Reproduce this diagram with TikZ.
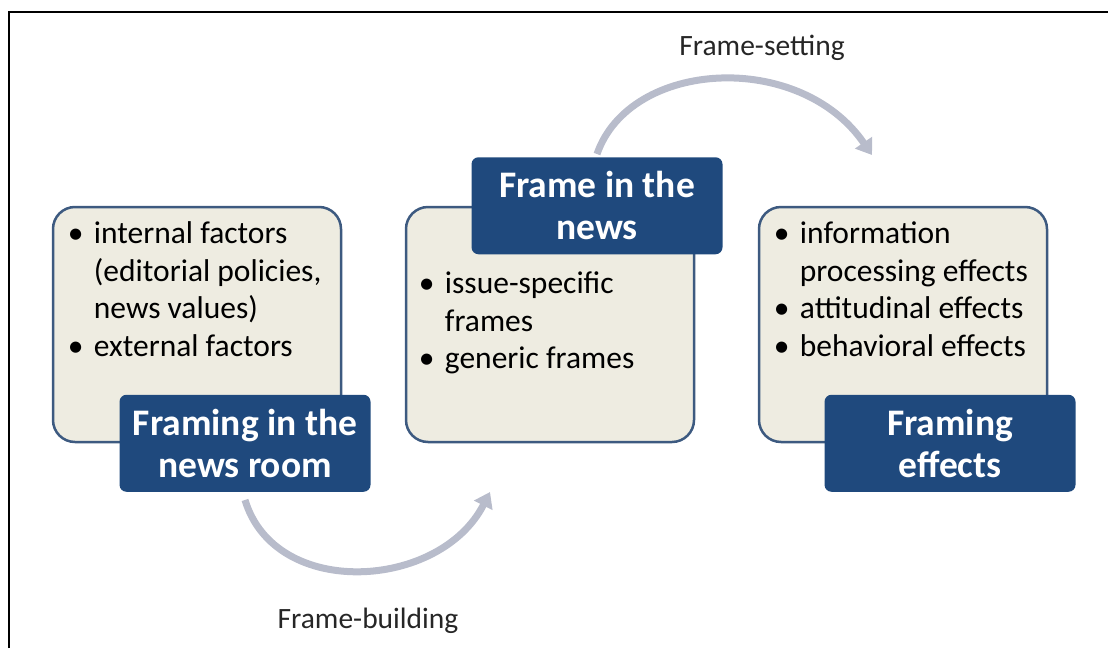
\documentclass[tikz,border=0pt]{standalone}
\usepackage{fontspec}
\setmainfont{Carlito}
\usetikzlibrary{calc,positioning,arrows.meta}

\definecolor{newsblue}{HTML}{1F497D}
\definecolor{paper}{HTML}{EEECE1}
\definecolor{rim}{HTML}{3D5A80}
\definecolor{flow}{HTML}{B8BCCB}

\tikzset{
  listbox/.style={draw=rim, line width=2.5pt, fill=paper, rounded corners=22pt,
    minimum width=288pt, minimum height=235pt, inner sep=0pt},
  titlebox/.style={fill=newsblue, rounded corners=7pt, minimum width=251pt,
    minimum height=97pt, text=white, align=center, inner sep=0pt,
    font=\fontsize{37.5}{42}\selectfont\bfseries},
  listtext/.style={anchor=north west, inner sep=0pt, align=left,
    font=\fontsize{31.5}{37.5}\selectfont},
  flowarrow/.style={draw=flow, line width=7pt, -{Triangle[width=20pt,length=15pt]}},
  flowlabel/.style={font=\fontsize{29.5}{32}\selectfont, text=black!85}
}
\newcommand{\itm}[1]{\makebox[26pt][l]{\textbullet}#1}
\newcommand{\cnt}[1]{\hspace*{26pt}#1}

\begin{document}
\begin{tikzpicture}[x=1pt,y=-1pt]
    \def\gap{353}    % distance between the columns
    \def\midy{324.5} % middle of the list boxes

    \useasboundingbox (0,0) rectangle (1108,648);

    % Draw the frame
    \draw[line width=2pt] (9,648) -- (9,12) -- (1108,12);

    % Draw the list boxes
    \node[listbox] (lroom) at (197,\midy) {};
    \node[listbox] (lnews) at (197+\gap,\midy) {};
    \node[listbox] (leffect) at (197+2*\gap,\midy) {};

    % Draw the title boxes
    \node[titlebox] (room) at ([xshift=48pt]lroom.south) {Framing in the\\news room};
    \node[titlebox] (news) at ([xshift=47pt]lnews.north) {Frame in the\\news};
    \node[titlebox] (effect) at ([xshift=47pt]leffect.south) {Framing\\effects};

    % Fill in the lists
    \node[listtext] (troom) at ([xshift=16pt,yshift=-16pt]lroom.north west)
      {\itm{internal factors}\\\cnt{(editorial policies,}\\\cnt{news values)}\\\itm{external factors}};
    \node[listtext] (tnews) at ([xshift=14pt,yshift=-66pt]lnews.north west)
      {\itm{issue-specific}\\\cnt{frames}\\\itm{generic frames}};
    \node[listtext] (teffect) at ([xshift=16pt,yshift=-16pt]leffect.north west)
      {\itm{information}\\\cnt{processing effects}\\\itm{attitudinal effects}\\\itm{behavioral effects}};

    % Draw the arrows
    \coordinate (buildend) at (490,492);
    \coordinate (setend) at (872,155);
    \draw[flowarrow] ([yshift=-8pt]room.south) .. controls +(30,100) and +(-50,98) .. (buildend);
    \draw[flowarrow] ([yshift=3pt]news.north) .. controls +(33,-95) and +(-72,-105) .. (setend);

    % Label the arrows
    \node[flowlabel] (setlabel) at (762,48) {Frame-setting};
    \node[flowlabel] (buildlabel) at (368,621) {Frame-building};
\end{tikzpicture}
\end{document}
